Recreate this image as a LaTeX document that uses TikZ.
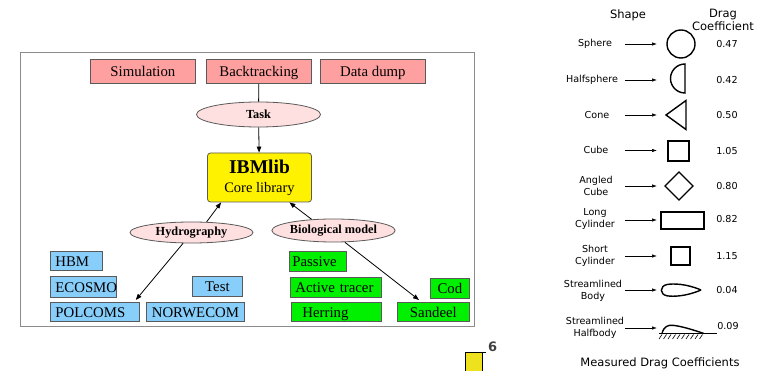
\documentclass[tikz,border=0pt]{standalone}
\usepackage{fontspec}
\newfontfamily\lserif{Liberation Serif}
\newfontfamily\djv{DejaVu Sans}
\usetikzlibrary{shapes.geometric,arrows.meta}
\definecolor{pinkc}{RGB}{255,160,160}
\definecolor{pinkell}{RGB}{255,224,224}
\definecolor{bluec}{RGB}{135,206,250}
\definecolor{greenc}{RGB}{0,240,0}
\definecolor{framec}{RGB}{140,140,140}
\definecolor{edgec}{RGB}{90,90,90}
\definecolor{sqc}{RGB}{238,226,30}
\tikzset{
  box/.style={draw=edgec, line width=0.8pt, inner sep=0pt, anchor=north west,
    text height=11pt, text depth=0pt, font=\lserif\fontsize{14.8}{16}\selectfont},
  pbox/.style={box, fill=pinkc},
  bbox/.style={box, fill=bluec},
  gbox/.style={box, fill=greenc},
  lalign/.style 2 args={inner xsep=#1, text width=#2, align=left},
  ell/.style={ellipse, draw=edgec, line width=0.8pt, fill=pinkell, inner sep=0pt,
    font=\lserif\bfseries\fontsize{12.3}{14}\selectfont},
  larr/.style={-{Triangle[length=6pt,width=4.5pt]}, line width=0.8pt},
  rarr/.style={-{Latex[length=5pt,width=3.5pt]}, line width=0.7pt},
  rlbl/.style={align=center, inner sep=0pt, font=\djv\fontsize{9.6}{12}\selectfont},
  rval/.style={inner sep=0pt, font=\djv\fontsize{9.6}{11}\selectfont},
  rttl/.style={align=center, inner sep=0pt, font=\djv\fontsize{11.5}{13.5}\selectfont},
  shp/.style={line width=1.4pt, line join=miter}
}
\begin{document}
\begin{tikzpicture}[x=1pt,y=-1pt]
\useasboundingbox (0,0) rectangle (769,371);

% ---------- left diagram ----------
\draw[framec, line width=1pt] (20,53) rectangle (474,327);

\node[pbox, minimum width=105, minimum height=24] (sim) at (90,59) {Simulation};
\node[pbox, minimum width=105, minimum height=24] (back) at (206,59) {Backtracking};
\node[pbox, minimum width=105, minimum height=24] (dump) at (320,59) {Data dump};

\node[ell, minimum width=124, minimum height=25] (task) at (258.5,114.5) {Task};

\node[draw=edgec, line width=0.8pt, fill=yellow, rounded corners=3pt, inner sep=0pt,
      minimum width=104, minimum height=49, align=center,
      font=\lserif\fontsize{14.5}{19}\selectfont] (ibm) at (259.5,177.5)
      {{\fontsize{19.5}{19}\selectfont\bfseries IBMlib}\\Core library};

\node[ell, minimum width=123, minimum height=21] (hydro) at (191.5,232.5) {Hydrography};
\node[ell, minimum width=123, minimum height=23] (bio) at (333.5,230.5) {Biological model};

\node[bbox, minimum width=52, minimum height=19, lalign={5pt}{42pt}] (hbm) at (50,251) {HBM};
\node[bbox, minimum width=66, minimum height=21, lalign={5pt}{56pt}] (eco) at (50,276) {ECOSMO};
\node[bbox, minimum width=50, minimum height=20] (test) at (192,276) {Test};
\node[bbox, minimum width=89, minimum height=19, lalign={5pt}{79pt}] (pol) at (50,302) {POLCOMS};
\node[bbox, minimum width=98, minimum height=19] (nor) at (146,302) {NORWECOM};

\node[gbox, minimum width=57, minimum height=20, lalign={3pt}{51pt}] (pas) at (289,251) {Passive};
\node[gbox, minimum width=91, minimum height=20, lalign={5pt}{81pt}] (act) at (290,277) {Active tracer};
\node[gbox, minimum width=90, minimum height=19, lalign={11pt}{68pt}] (her) at (291,302) {Herring};
\node[gbox, minimum width=39, minimum height=20] (cod) at (430,278) {Cod};
\node[gbox, minimum width=72, minimum height=19] (san) at (397,302) {Sandeel};

\draw[line width=0.8pt] (back) -- (task);
\draw[larr] (task) -- (ibm);
\draw[larr] (hydro.35) -- ([xshift=14pt]ibm.south west);
\draw[larr] (bio.153) -- ([xshift=-22.5pt]ibm.south east);
\draw[larr] (hydro.232) -- ([xshift=-4pt,yshift=2pt]pol.north east);
\draw[larr] (bio.-46) -- ([xshift=22pt,yshift=2pt]san.north west);

% yellow square at the bottom
\fill[sqc] (465,353) rectangle (482,372);
\draw[line width=1pt] (465,372) -- (465,353) -- (486,353);
\draw[line width=1pt] (482,353) -- (482,372);
\node[anchor=west, inner sep=0pt, text=black!75, font=\djv\bfseries\fontsize{13}{14}\selectfont] (six) at (488,347) {6};

% ---------- right diagram ----------
\node[rttl] (tshape) at (628,15) {Shape};
\node[rttl] (tdrag) at (723,20) {Drag\\Coefficient};
\node[rttl] (tmeas) at (660,363) {Measured Drag Coefficients};

\node[rlbl] (l1) at (595,44) {Sphere};
\node[rlbl] (l2) at (592,80) {Halfsphere};
\node[rlbl] (l3) at (597,115) {Cone};
\node[rlbl] (l4) at (596,150) {Cube};
\node[rlbl] (l5) at (596,186) {Angled\\Cube};
\node[rlbl] (l6) at (595,219) {Long\\Cylinder};
\node[rlbl] (l7) at (595,256) {Short\\Cylinder};
\node[rlbl] (l8) at (593,291) {Streamlined\\Body};
\node[rlbl] (l9) at (595,328) {Streamlined\\Halfbody};

\foreach \i/\y in {1/44,2/80,3/115,4/150.5,5/186,6/220,7/256,8/290,9/328}{
  \coordinate (s\i) at (625,\y);
  \coordinate (e\i) at (657,\y);
  \draw[rarr] (s\i) -- (e\i);
}

\node[rval] (v1) at (727,44) {0.47};
\node[rval] (v2) at (727,80) {0.42};
\node[rval] (v3) at (727,115) {0.50};
\node[rval] (v4) at (727,151) {1.05};
\node[rval] (v5) at (727,186) {0.80};
\node[rval] (v6) at (727,219) {0.82};
\node[rval] (v7) at (727,256) {1.15};
\node[rval] (v8) at (727,290) {0.04};
\node[rval] (v9) at (728,326) {0.09};

% shapes
\draw[shp] (681,44) circle[radius=14];
\draw[shp] (685,64) arc[start angle=-90, end angle=-270, radius=14.5] -- cycle;
\draw[shp] (666,115) -- (686,100.5) -- (686,129.5) -- cycle;
\draw[shp] (668,141) rectangle (689,161);
\draw[shp] (665,186) -- (679,172) -- (693,186) -- (679,200) -- cycle;
\draw[shp] (661,212) rectangle (704,229);
\draw[shp] (671,247) rectangle (690,265);
\draw[shp] (701,290) .. controls (686,283.5) and (673,283.5) .. (667,284.5)
      .. controls (659.5,286) and (659.5,294.5) .. (667,295.8)
      .. controls (673,296.8) and (686,296.5) .. (701,290);
\draw[line width=1.2pt] (659,333.5) -- (717,333.5);
\draw[shp] (662,333.5) .. controls (664,326) and (668,325) .. (673,325.3)
      .. controls (683,326.5) and (695,330.5) .. (704,333.5);
\foreach \x in {662,666.5,...,706}{
  \draw[line width=0.6pt] (\x,334.5) -- (\x-3,339);
}
\end{tikzpicture}
\end{document}
